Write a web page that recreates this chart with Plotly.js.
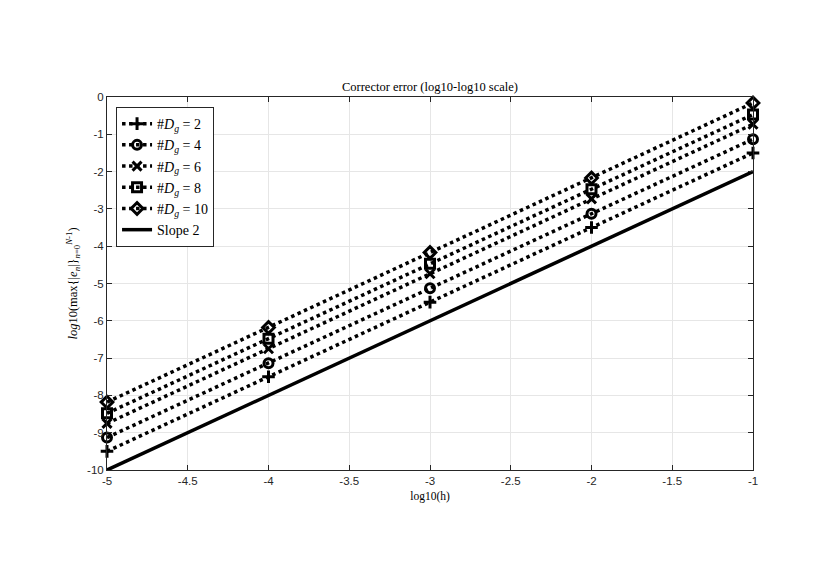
<!DOCTYPE html>
<html>
<head>
<meta charset="utf-8">
<script src="https://cdn.plot.ly/plotly-3.0.1.min.js"></script>
<style>body{margin:0;background:#fff}#plot{width:830px;height:587px}</style>
</head>
<body>
<div id="plot"></div>
<script>
// log10(h) values and errors
var logH = [-5, -4, -3, -2, -1];
var errD2 = [-9.5, -7.5, -5.5, -3.5, -1.5];
var errD4 = [-9.13, -7.14, -5.13, -3.13, -1.13];
var errD6 = [-8.75, -6.75, -4.74, -2.73, -0.73];
var errD8 = [-8.48, -6.48, -4.47, -2.47, -0.47];
var errD10 = [-8.18, -6.18, -4.17, -2.17, -0.16];
var slopeLine = [-10, -8, -6, -4, -2];

var names = ['#<i>D<sub>g</sub></i> = 2', '#<i>D<sub>g</sub></i> = 4', '#<i>D<sub>g</sub></i> = 6',
             '#<i>D<sub>g</sub></i> = 8', '#<i>D<sub>g</sub></i> = 10'];
var series = [errD2, errD4, errD6, errD8, errD10];
var symbols = ['cross-thin-open', 'circle-open', 'x-thin-open', 'square-open', 'diamond-open'];

var traces = series.map(function (ys, i) {
    return {
        x: logH, y: ys, name: names[i], type: 'scatter', mode: 'lines+markers', cliponaxis: false,
        line: {color: '#000', width: 3.5, dash: 'dot'},
        marker: {symbol: symbols[i], size: 9, color: '#000', line: {color: '#000', width: 3}}
    };
});
traces.push({
    x: logH, y: slopeLine, name: 'Slope 2', type: 'scatter', mode: 'lines', cliponaxis: false,
    line: {color: '#000', width: 3.5}
});

var axisStyle = {
    showline: true, linecolor: '#262626', linewidth: 1, mirror: 'ticks',
    ticks: 'inside', ticklen: 5, tickcolor: '#262626',
    showgrid: true, gridcolor: '#e6e6e6', zeroline: false,
    tickfont: {family: 'Liberation Sans, Arial, sans-serif', size: 11.5, color: '#262626'}
};

var layout = {
    width: 830, height: 587,
    margin: {l: 107, r: 77, t: 97, b: 117},
    paper_bgcolor: '#fff', plot_bgcolor: '#fff',
    title: {text: 'Corrector error (log10-log10 scale)', x: 0.518, xanchor: 'center', y: 0.86,
            font: {family: 'Liberation Serif, serif', size: 12.5, color: '#000'}},
    xaxis: Object.assign({}, axisStyle, {
        range: [-5, -1], tickvals: [-5, -4.5, -4, -3.5, -3, -2.5, -2, -1.5, -1],
        ticktext: ['-5', '-4.5', '-4', '-3.5', '-3', '-2.5', '-2', '-1.5', '-1'],
        title: {text: 'log10(h)', standoff: 6, font: {family: 'Liberation Serif, serif', size: 11.5, color: '#000'}}
    }),
    yaxis: Object.assign({}, axisStyle, {
        range: [-10, 0], tickvals: [-10, -9, -8, -7, -6, -5, -4, -3, -2, -1, 0],
        ticktext: ['-10', '-9', '-8', '-7', '-6', '-5', '-4', '-3', '-2', '-1', '0'],
        title: {text: '<i>log</i>10(max{|<i>e<sub>n</sub></i>|}<sub><i>n</i>=0</sub><sup><i>N</i>-1</sup>)', standoff: 6,
                font: {family: 'Liberation Serif, serif', size: 12.5, color: '#000'}}
    }),
    showlegend: true,
    legend: {x: 0.014, y: 0.973, xanchor: 'left', yanchor: 'top',
             bgcolor: '#fff', bordercolor: '#262626', borderwidth: 1,
             font: {family: 'Liberation Serif, serif', size: 14, color: '#000'},
             tracegroupgap: 0, itemwidth: 30}
};

Plotly.newPlot('plot', traces, layout, {displayModeBar: false});
</script>
</body>
</html>
